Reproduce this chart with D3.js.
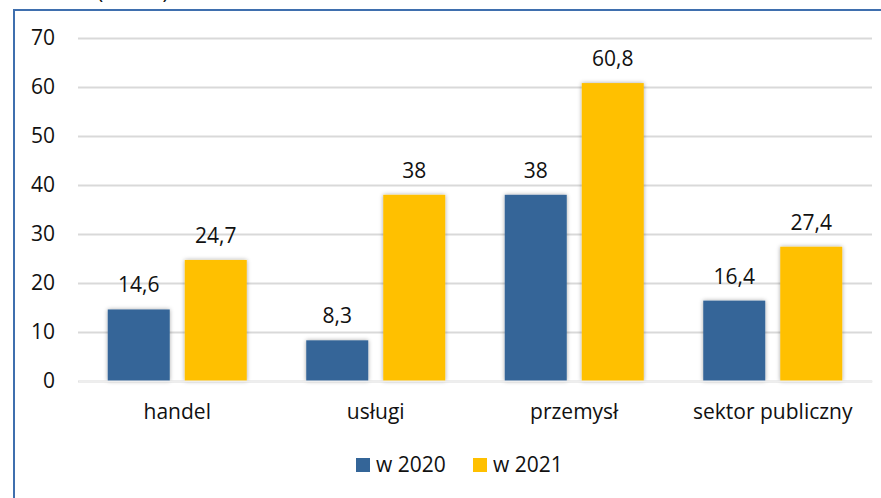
<!DOCTYPE html>
<html>
<head>
<meta charset="utf-8">
<script src="https://cdn.jsdelivr.net/npm/d3@7"></script>
<style>
  html, body { margin: 0; padding: 0; background: #fff; }
  svg { display: block; font-family: "Open Sans", "Noto Sans", sans-serif; }
</style>
</head>
<body>
<svg id="chart" width="881" height="498"></svg>
<script>
const categories = ["handel", "usługi", "przemysł", "sektor publiczny"];
const seriesNames = ["w 2020", "w 2021"];
const values2020 = [14.6, 8.3, 38, 16.4];
const values2021 = [24.7, 38, 60.8, 27.4];
const yTicks = [0, 10, 20, 30, 40, 50, 60, 70];
const unitLabel = "(w mln)";
const colors = ["#346598", "#FFC000"];

(function () {
const svg = d3.select("#chart");
const plotLeft = 78, plotRight = 872, plotTop = 38, plotBottom = 381;
const fs = 21;

const defs = svg.append("defs");
const f = defs.append("filter").attr("id", "shadow").attr("x", "-20%").attr("y", "-20%").attr("width", "140%").attr("height", "140%");
f.append("feDropShadow").attr("dx", 0).attr("dy", 0).attr("stdDeviation", 2).attr("flood-color", "#000").attr("flood-opacity", 0.35);

// partially cut unit text at top (cut off in the reference too)
svg.append("text").attr("x", 97).attr("y", -1).attr("font-size", fs).attr("fill", "#111").text(unitLabel);

// frame
svg.append("rect").attr("x", 14).attr("y", 10).attr("width", 900).attr("height", 520)
  .attr("fill", "none").attr("stroke", "#3f6fae").attr("stroke-width", 2);

const x0 = d3.scaleBand().domain(categories).range([plotLeft, plotRight]).paddingInner(0).paddingOuter(0);
const groupW = 139;
const x1 = d3.scaleBand().domain(seriesNames).range([0, groupW]).paddingInner(0.195).paddingOuter(0);
const y = d3.scaleLinear().domain([0, 70]).range([plotBottom, plotTop]);

// grid
const yAxis = d3.axisLeft(y).tickValues(yTicks).tickSize(-(plotRight - plotLeft)).tickPadding(23).tickFormat(d => String(d));
const gy = svg.append("g").attr("transform", `translate(${plotLeft},0)`).call(yAxis);
gy.select(".domain").remove();
gy.selectAll(".tick line").attr("stroke", "#d9d9d9").attr("stroke-width", 2);
gy.selectAll(".tick text").attr("font-size", fs).attr("fill", "#111").attr("font-family", "Open Sans, sans-serif");

const data = categories.map((c, i) => ({ cat: c, vals: [values2020[i], values2021[i]] }));

const groups = svg.append("g").selectAll("g").data(data).join("g")
  .attr("transform", d => `translate(${x0(d.cat) + (x0.bandwidth() - groupW) / 2},0)`);

groups.selectAll("rect").data(d => d.vals.map((v, j) => ({ v, s: seriesNames[j], j })))
  .join("rect")
  .attr("x", d => x1(d.s)).attr("width", x1.bandwidth())
  .attr("y", d => y(d.v)).attr("height", d => y(0) - y(d.v))
  .attr("fill", d => colors[d.j]).attr("filter", "url(#shadow)");

groups.selectAll("text.val").data(d => d.vals.map((v, j) => ({ v, s: seriesNames[j], j })))
  .join("text").attr("class", "val")
  .attr("x", d => x1(d.s) + x1.bandwidth() / 2)
  .attr("y", d => y(d.v) - 17)
  .attr("text-anchor", "middle").attr("font-size", fs).attr("fill", "#111")
  .text(d => String(d.v).replace(".", ","));

// category labels
const xAxis = d3.axisBottom(x0).tickSize(0).tickPadding(0);
const gx = svg.append("g").attr("transform", `translate(0,${plotBottom})`).call(xAxis);
gx.select(".domain").attr("stroke", "#eeeeee").attr("stroke-width", 2);
gx.selectAll(".tick text").attr("font-size", fs).attr("fill", "#111").attr("font-family", "Open Sans, sans-serif")
  .attr("dy", null).attr("y", 38);

// legend
const legendX = [356, 473];
const lg = svg.append("g");
seriesNames.forEach((s, i) => {
  lg.append("rect").attr("x", legendX[i]).attr("y", 458).attr("width", 14).attr("height", 14).attr("fill", colors[i]);
  lg.append("text").attr("x", legendX[i] + 20).attr("y", 472).attr("font-size", fs).attr("fill", "#111").text(s);
});
})();
</script>
</body>
</html>
